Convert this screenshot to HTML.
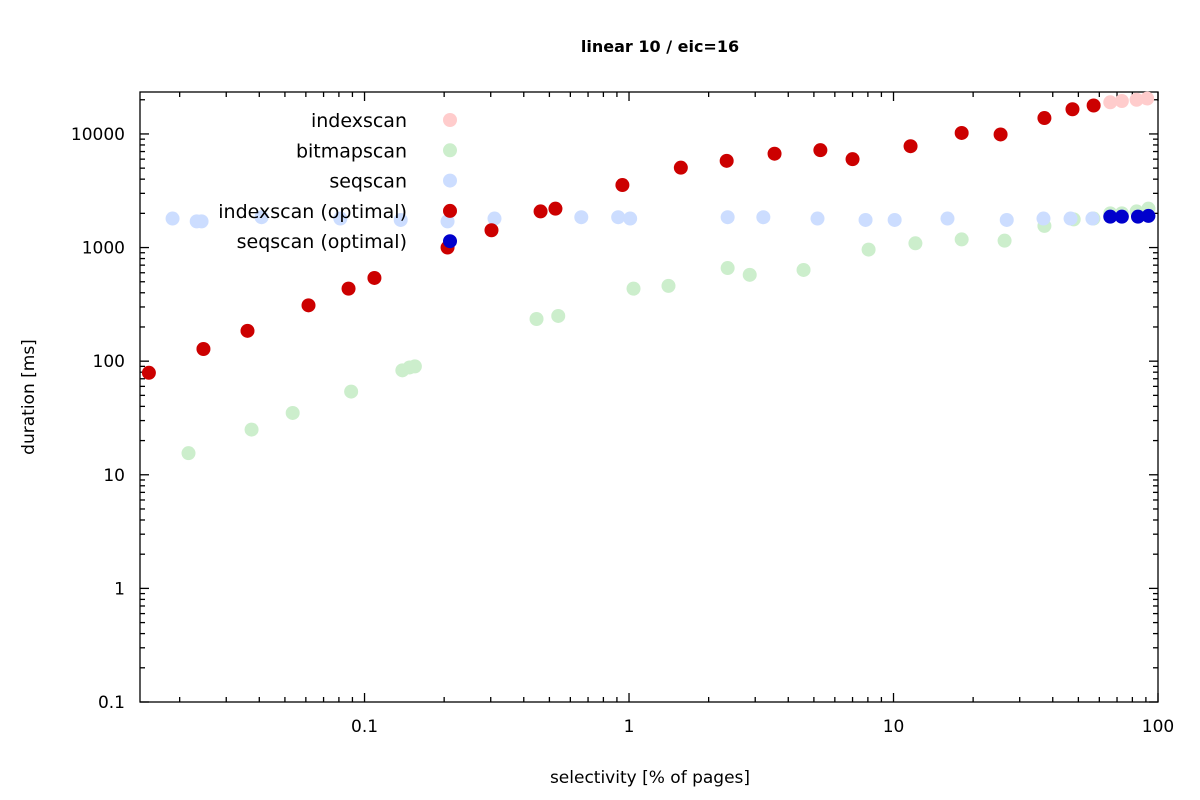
<!DOCTYPE html>
<html><head><meta charset="utf-8"><style>
html,body{margin:0;padding:0;background:#fff}
svg{display:block;font-family:"DejaVu Sans","Liberation Sans",sans-serif}
</style></head><body>
<svg id="chart" width="1200" height="800" xmlns="http://www.w3.org/2000/svg"></svg>
<script>
const idxX=[66,73,83,91];
const idxY=[19000,19500,20000,20500];
const bmpX=[0.0216,0.0374,0.0535,0.089,0.139,0.148,0.155,0.447,0.54,1.04,1.41,2.36,2.86,4.57,8.05,12.1,18.1,26.3,37.2,48,57,66,73,83,92];
const bmpY=[15.5,25,35,54,83,88,90,235,250,435,460,660,575,635,960,1090,1180,1150,1550,1770,1800,2000,2000,2080,2200];
const seqX=[0.0188,0.0232,0.0242,0.0408,0.081,0.137,0.206,0.31,0.66,0.91,1.01,2.36,3.22,5.16,7.84,10.1,16.0,26.8,36.9,46.7,56.5];
const seqY=[1800,1700,1700,1850,1800,1750,1700,1800,1850,1850,1800,1850,1850,1800,1750,1750,1800,1750,1800,1800,1800];
const ioX=[0.0153,0.0246,0.0361,0.0614,0.087,0.109,0.206,0.302,0.463,0.527,0.944,1.57,2.34,3.55,5.29,7.0,11.6,18.1,25.4,37.2,47.5,57.1];
const ioY=[79,128,185,310,435,540,1000,1420,2080,2200,3550,5050,5800,6700,7200,6000,7800,10200,9900,13800,16500,17800];
const soX=[66,73,84,92];
const soY=[1870,1870,1870,1900];
const yTicks=[0.1,1,10,100,1000,10000];
const yTickLabels=["0.1","1","10","100","1000","10000"];
const xTicks=[0.1,1,10,100];
const xTickLabels=["0.1","1","10","100"];

const L=140,R=1158,T=92,B=702;
const xmin=Math.log10(0.01416),xmax=2,ymin=-1,ymax=Math.log10(23400);
function sx(v){return L+(Math.log10(v)-xmin)/(xmax-xmin)*(R-L);}
function sy(v){return B-(Math.log10(v)-ymin)/(ymax-ymin)*(B-T);}
const svg=document.getElementById('chart');
const NS='http://www.w3.org/2000/svg';
function mk(tag,attrs,parent){const e=document.createElementNS(NS,tag);for(const k in attrs)e.setAttribute(k,attrs[k]);(parent||svg).appendChild(e);return e;}

const title=mk('text',{x:660,y:52,'text-anchor':'middle','font-size':16,'font-weight':'bold'});
title.textContent='linear 10 / eic=16';



const axes=mk('g',{stroke:'#000','stroke-width':1.3,fill:'none'});


mk('rect',{x:L,y:T,width:R-L,height:B-T},axes);
// y ticks
for(let d=-1;d<=4;d++){for(let m=1;m<10;m++){const v=m*Math.pow(10,d);const y=sy(v);if(y<T)continue;const len=m===1?9:5;
mk('line',{x1:L,y1:y,x2:L+len,y2:y},axes);mk('line',{x1:R,y1:y,x2:R-len,y2:y},axes);}}
// x ticks
for(let d=-2;d<=1;d++){for(let m=1;m<10;m++){const v=m*Math.pow(10,d);const x=sx(v);if(x<L-0.5||x>R+0.5)continue;const len=m===1?9:5;
mk('line',{x1:x,y1:B,x2:x,y2:B-len},axes);mk('line',{x1:x,y1:T,x2:x,y2:T+len},axes);}}
mk('line',{x1:R,y1:B,x2:R,y2:B-9},axes);mk('line',{x1:R,y1:T,x2:R,y2:T+9},axes);

yTicks.forEach((v,i)=>{const t=mk('text',{x:125,y:sy(v)+6,'text-anchor':'end','font-size':17});t.textContent=yTickLabels[i];

});
xTicks.forEach((v,i)=>{const t=mk('text',{x:sx(v),y:732,'text-anchor':'middle','font-size':17});t.textContent=xTickLabels[i];

});

const xl=mk('text',{x:650,y:783,'text-anchor':'middle','font-size':17});xl.textContent='selectivity [% of pages]';


const yl=mk('text',{x:0,y:0,'text-anchor':'middle','font-size':17,transform:'translate(34,397) rotate(-90)'});yl.textContent='duration [ms]';



const series=[
 {name:'indexscan',xs:idxX,ys:idxY,c:'#ffcccc'},
 {name:'bitmapscan',xs:bmpX,ys:bmpY,c:'#cceecc'},
 {name:'seqscan',xs:seqX,ys:seqY,c:'#ccddff'},
 {name:'indexscan (optimal)',xs:ioX,ys:ioY,c:'#cc0000'},
 {name:'seqscan (optimal)',xs:soX,ys:soY,c:'#0000cc'}];
series.forEach((s,si)=>{
 const g=mk('g',{fill:s.c});
 
 
 const ly=120+si*30.3;
 const lt=mk('text',{x:407,y:ly+7,'text-anchor':'end','font-size':19,fill:'#000'},g);lt.textContent=s.name;
 
 
 const lm=mk('circle',{cx:450,cy:ly,r:7},g);
 
 
 s.xs.forEach((x,i)=>{const c=mk('circle',{cx:sx(x),cy:sy(s.ys[i]),r:7},g);
 
 });
});
</script>
</body></html>
